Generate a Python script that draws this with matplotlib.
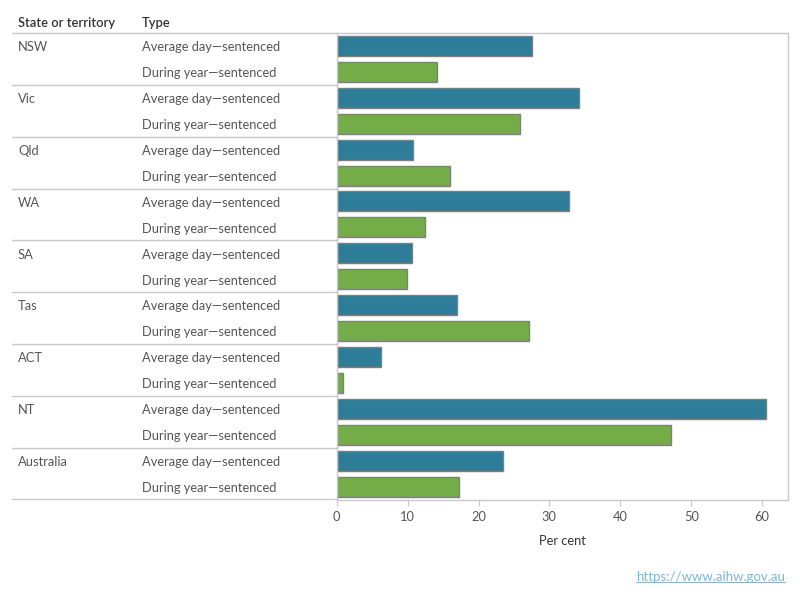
import matplotlib
matplotlib.use("Agg")
import matplotlib.pyplot as plt
import matplotlib.transforms as mtrans
from matplotlib.lines import Line2D

plt.rcParams['font.family'] = ['Lato', 'DejaVu Sans']

states = ["NSW", "Vic", "Qld", "WA", "SA", "Tas", "ACT", "NT", "Australia"]
types = ["Average day\u2014sentenced", "During year\u2014sentenced"]
avg_day = [27.6, 34.1, 10.7, 32.7, 10.6, 16.9, 6.2, 60.6, 23.4]
during_year = [14.2, 25.8, 16.0, 12.4, 9.9, 27.1, 0.9, 47.2, 17.3]
xticks = [0, 10, 20, 30, 40, 50, 60]

blue = "#2d7d98"
green = "#74ad47"
line_col = "#c8c8c8"
text_col = "#555555"

W, H = 800, 600
fig = plt.figure(figsize=(8, 6), dpi=100)
left, right, top, bottom = 336.7, 787.7, 33, 499.5
ax = fig.add_axes([left / W, 1 - bottom / H, (right - left) / W, (bottom - top) / H])

n = len(states)
rows = 2 * n
for i in range(n):
    ax.barh(2 * i + 0.5, avg_day[i], height=0.77, color=blue, edgecolor="#7f7f7f", linewidth=1)
    ax.barh(2 * i + 1.5, during_year[i], height=0.77, color=green, edgecolor="#7f7f7f", linewidth=1)

ax.set_xlim(0, 63.6)
ax.set_ylim(rows, 0)
ax.set_yticks([])
ax.set_xticks(xticks)
ax.set_xticklabels([str(t) for t in xticks], fontsize=9.3, color=text_col)
ax.tick_params(axis="x", length=4, color=line_col, pad=4)
for s in ax.spines.values():
    s.set_color(line_col)
    s.set_linewidth(1)

ax.set_xlabel("Per cent", fontsize=9.3, color="#333333", labelpad=9)

tr = mtrans.blended_transform_factory(fig.transFigure, ax.transData)
x0 = 12 / W
for i in range(n + 1):
    ax.plot([x0, left / W], [2 * i, 2 * i], transform=tr, color=line_col, lw=1, clip_on=False)
for i in range(n):
    ax.text(18 / W, 2 * i + 0.55, states[i], transform=tr, fontsize=9.3, color=text_col, va="center")
    ax.text(142 / W, 2 * i + 0.55, types[0], transform=tr, fontsize=9.3, color=text_col, va="center")
    ax.text(142 / W, 2 * i + 1.55, types[1], transform=tr, fontsize=9.3, color=text_col, va="center")

fig.text(18 / W, 1 - 23 / H, "State or territory", fontsize=9.3, color="#333333", va="center", fontweight="semibold")
fig.text(142 / W, 1 - 23 / H, "Type", fontsize=9.3, color="#333333", va="center", fontweight="semibold")

url = fig.text(785 / W, 1 - 577 / H, "https://www.aihw.gov.au", fontsize=9.5, color="#7ab8d9", ha="right", va="center")
fig.canvas.draw()
bb = url.get_window_extent().transformed(fig.transFigure.inverted())
fig.add_artist(Line2D([bb.x0, bb.x1], [bb.y0 + 1 / H, bb.y0 + 1 / H], color="#7ab8d9", lw=0.8, transform=fig.transFigure))

fig.savefig("out.png", dpi=100)
